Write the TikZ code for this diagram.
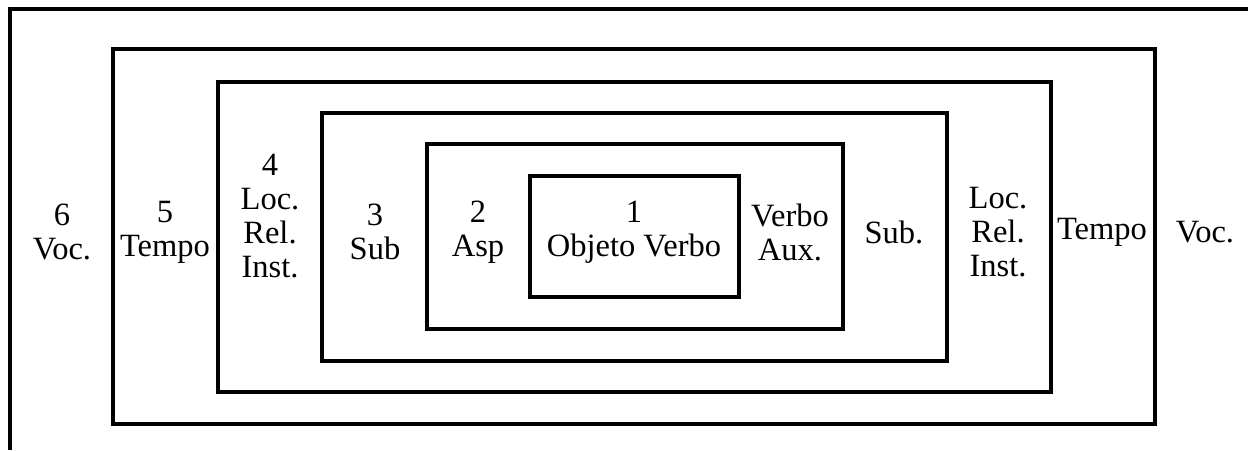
\documentclass[tikz,border=0pt]{standalone}
\usepackage{fontspec}
\setmainfont{Liberation Serif}
\usepackage{tikz}

\tikzset{camada/.style={line width=3.2pt, line join=miter},
         rotulo/.style={align=center, inner sep=0pt, font=\fontsize{32.5}{34}\selectfont}}

\begin{document}
\begin{tikzpicture}[x=1pt, y=-1pt]
        \useasboundingbox (0,0) rectangle (1248,450);
        \draw [camada]  (10,450) -- (10,9) -- (1248,9);               %moldura
        \draw [camada]  (113,49)  rectangle (1155,424);               %6
        \draw [camada]  (218,82)  rectangle (1051,392);               %5
        \draw [camada]  (322,113) rectangle (947,361);                %4
        \draw [camada]  (427,144) rectangle (843,329);                %3
        \draw [camada]  (530,176) rectangle (739,297);                %2 e 1
        \node [rotulo] (vocE)   at (62,232)   {6\\Voc.};              %
        \node [rotulo] (tempoE) at (165,232)  {5\\Tempo};             %
        \node [rotulo] (locE)   at (270,216)  {4\\Loc.\\Rel.\\Inst.}; %
        \node [rotulo] (subE)   at (375,232)  {3\\Sub};               %
        \node [rotulo] (asp)    at (478,232)  {2\\Asp};               %
        \node [rotulo] (nucleo) at (634,232)  {1\\Objeto Verbo};      %
        \node [rotulo] (aux)    at (790,232)  {Verbo\\Aux.};          %
        \node [rotulo] (subD)   at (894,232)  {Sub.};                 %
        \node [rotulo] (locD)   at (998,232)  {Loc.\\Rel.\\Inst.};    %
        \node [rotulo] (tempoD) at (1102,232) {Tempo};                %
        \node [rotulo] (vocD)   at (1205,232) {Voc.};                 %
\end{tikzpicture}
\end{document}
